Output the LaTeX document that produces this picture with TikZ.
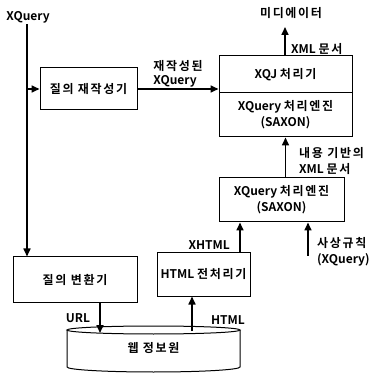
\documentclass[tikz,border=0pt]{standalone}
\usepackage{fontspec}
\setmainfont{Noto Sans CJK KR}[BoldFont={Noto Sans CJK KR Bold}]
\newfontfamily\krfont{Noto Sans CJK KR}[BoldFont={Noto Sans CJK KR Bold}, LetterSpace=14]
\newcommand{\kr}[1]{{\krfont #1}}
\usetikzlibrary{arrows.meta}

\begin{document}
\begin{tikzpicture}[x=1pt, y=-1pt, >={Triangle[length=8pt, width=7pt]},
  every node/.style={font=\fontsize{12}{16}\selectfont\bfseries},
  box/.style={draw, line width=1pt, inner sep=2pt, align=center},
  flow/.style={->, line width=1.6pt},
  lbl/.style={align=left, inner sep=1pt}]

  \useasboundingbox (0,0) rectangle (383,374);

  % Query side: rewriting and conversion
  \node[lbl] (xq) at (28,17) {XQuery};
  \node[box, minimum width=97pt, minimum height=42pt] (rew) at (88.5,89) {\kr{질의 재작성기}};
  \node[box, minimum width=124pt, minimum height=45pt] (conv) at (75,279.5) {\kr{질의 변환기}};

  % XQJ processor on top of its engine
  \node[box, minimum width=133pt, minimum height=37pt] (xqj) at (285.5,74.5) {XQJ \kr{처리기}};
  \node[box, minimum width=133pt, minimum height=44pt] (engA) at (285.5,115) {XQuery \kr{처리엔진}\\(SAXON)};

  % Content engine and HTML preprocessing
  \node[box, minimum width=125pt, minimum height=44pt] (engB) at (281.5,200) {XQuery \kr{처리엔진}\\(SAXON)};
  \node[box, minimum width=93pt, minimum height=43pt] (prep) at (203.5,274.5) {HTML \kr{전처리기}};

  % Web source drawn as a cylinder
  \draw[line width=1pt] (67,330) -- (67,367)
    arc[start angle=180, end angle=360, x radius=86.5pt, y radius=5pt] -- (240,330);
  \draw[line width=1pt] (153.5,330) ellipse [x radius=86.5pt, y radius=4pt];
  \node (web) at (153.5,348) {\kr{웹 정보원}};
  \coordinate (webUrl) at (100,333);
  \coordinate (webHtml) at (192,331);

  % Mediator output
  \node[lbl] (med) at (291,13) {\kr{미디에이터}};
  \coordinate (medTip) at (285,27);

  % Connectors
  \draw[flow] (xq.south -| 27,0) -- (27,0 |- conv.north);
  \draw[flow] (27,0 |- rew.west) -- (rew.west);
  \draw[flow] (rew.east) -- (rew.east -| xqj.west)
    node[lbl, midway, above, font=\fontsize{12}{14}\selectfont\bfseries] {\kr{재작성된}\\XQuery};
  \draw[flow] (xqj.north -| medTip) -- (medTip);
  \node[lbl, anchor=south west] at (290,56) {XML \kr{문서}};

  \draw[flow] (engB.north -| engA.south) -- (engA.south);
  \node[lbl, anchor=west] at (298,161) {\kr{내용 기반의}\\XML \kr{문서}};

  \draw[flow] ([xshift=36.5pt]prep.north) -- ([xshift=36.5pt]prep.north |- engB.south);
  \node[lbl, anchor=east] at (231,245) {XHTML};

  \coordinate (rule) at (308,256);
  \draw[flow] (rule) -- (rule |- engB.south);
  \node[lbl, anchor=west] at (316,252) {\kr{사상규칙}\\(XQuery)};

  \draw[flow] (conv.south -| webUrl) -- (webUrl);
  \node[lbl] at (78,318) {URL};
  \draw[flow] (webHtml) -- (webHtml |- prep.south);
  \node[lbl] at (228,320) {HTML};

\end{tikzpicture}
\end{document}
